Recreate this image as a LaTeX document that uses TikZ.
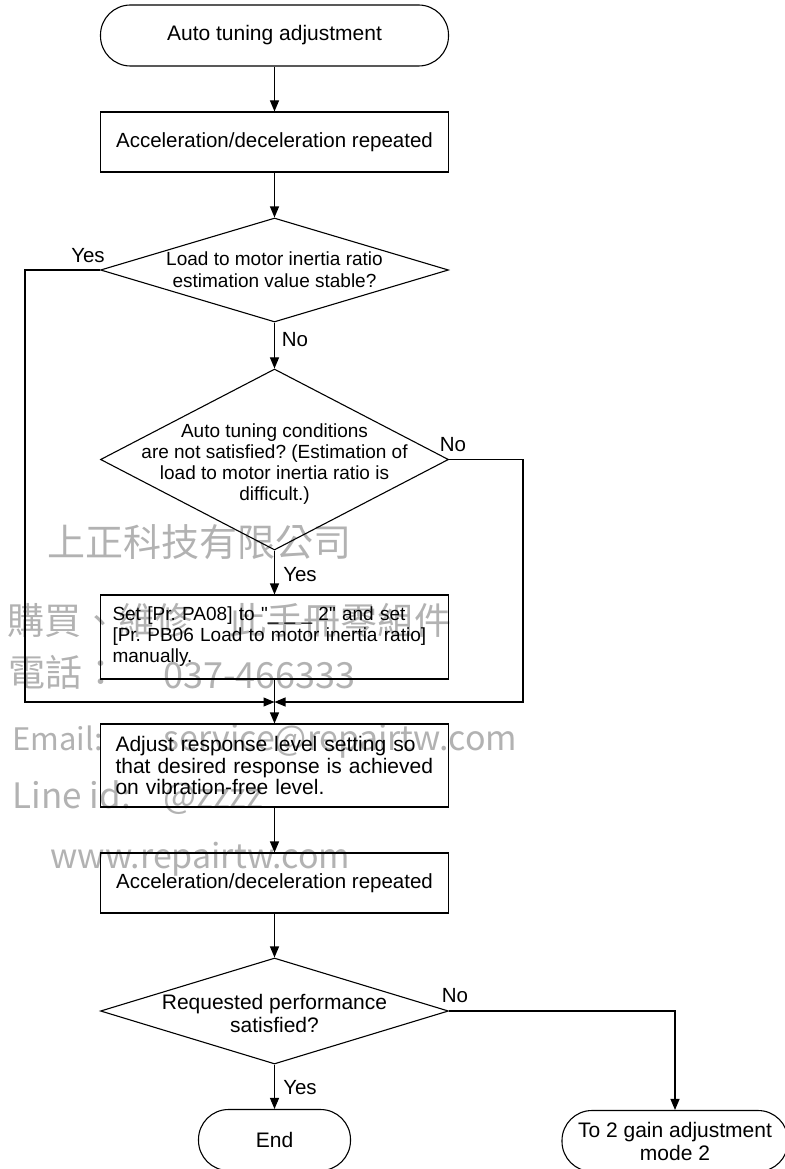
\documentclass[tikz,border=0pt]{standalone}
\usepackage{fontspec}
\setmainfont{Liberation Sans}
\newfontfamily\wmfont{Noto Sans CJK TC}
\usetikzlibrary{arrows.meta,shapes.geometric}
\frenchspacing

\tikzset{
  term/.style={draw, rounded corners=30pt, minimum height=61pt, inner sep=0pt, align=center, font=\fontsize{21}{23}\selectfont},
  proc/.style={draw, minimum width=348pt, minimum height=60pt, inner sep=0pt, font=\fontsize{20.5}{23}\selectfont},
  note/.style={draw, inner ysep=0pt, align=left, minimum height=#1},
  dia/.style={draw, diamond, minimum width=348pt, minimum height=#1, inner sep=0pt},
  diatext/.style={align=center, inner sep=0pt},
  lbl/.style={inner sep=0pt, font=\fontsize{20.5}{23}\selectfont},
  wm/.style={anchor=base west, inner sep=0pt, text=black!30, font=\wmfont\fontsize{#1}{#1}\selectfont},
}

\begin{document}
\begin{tikzpicture}[x=1pt,y=-1pt,line width=1.1pt,>={Triangle[length=11pt,width=9pt]}]
\useasboundingbox (0,0) rectangle (784,1169);

% watermark
\node[wm=38] (wm1) at (47,556) {上正科技有限公司};
\node[wm=37] (wm2) at (7,634) {購買、維修　此手冊零組件};
\node[wm=37] (wm3) at (8,686) {電話：};
\node[wm=36] (wm4) at (163,688) {037-466333};
\node[wm=31] (wm5) at (12,750) {Email:};
\node[wm=34] (wm6) at (163,750) {service@repairtw.com};
\node[wm=35] (wm7) at (12,808) {Line id:};
\node[wm=35] (wm8) at (163,808) {@zzzz};
\node[wm=34] (wm9) at (50,868) {www.repairtw.com};

% steps
\node[term, minimum width=348pt] (start) at (274.5,35.5) {Auto tuning adjustment};
\node[proc] (acc1) at (274.5,142) {Acceleration/deceleration repeated};
\node[dia=104pt] (d1) at (274.5,270) {};
\node[diatext, font=\fontsize{19}{22}\selectfont] (d1txt) at (274.5,270) {Load to motor inertia ratio\\estimation value stable?};
\node[dia=181pt] (d2) at (274.5,459.5) {};
\node[diatext, font=\fontsize{19}{21}\selectfont] (d2txt) at (274.5,464) {Auto tuning conditions\\are not satisfied? (Estimation of\\load to motor inertia ratio is\\difficult.)};
\node[note=84pt, text width=324pt, inner xsep=12pt, font=\fontsize{19}{21}\selectfont] (setpar) at (274.5,637) {Set [Pr. PA08] to \textquotedbl\_ \_ \_ 2\textquotedbl{} and set\\{}[Pr. PB06 Load to motor inertia ratio]\\manually.};
\coordinate (merge) at (274.5,702);
\coordinate (leftrail) at (25,702);
\coordinate (rightrail) at (523,702);
\node[note=83pt, text width=318pt, inner xsep=15pt, font=\fontsize{21}{21.5}\selectfont] (adjust) at (274.5,765.5) {Adjust response level setting so\\that desired response is achieved\\on vibration-free level.};
\node[proc] (acc2) at (274.5,883) {Acceleration/deceleration repeated};
\node[dia=106pt] (d3) at (274.5,1011) {};
\node[diatext, font=\fontsize{21}{23}\selectfont] (d3txt) at (274.5,1013) {Requested performance\\satisfied?};
\node[term, minimum width=152pt] (fin) at (274.5,1140) {End};
\node[term, minimum width=226pt] (mode2) at (675,1141) {To 2 gain adjustment\\mode 2};

% branch labels
\node[lbl] (yes1) at (88,256) {Yes};
\node[lbl] (no1) at (295,340) {No};
\node[lbl] (no2) at (453,445) {No};
\node[lbl] (yes2) at (300,575) {Yes};
\node[lbl] (no3) at (455,996) {No};
\node[lbl] (yes3) at (300,1088) {Yes};

% connectors
\draw[->] (start) -- (acc1);
\draw[->] (acc1) -- (d1);
\draw[->] (d1) -- (d2);
\draw[->] (d2) -- (setpar);
\draw[->] (setpar) -- (adjust);
\draw[->] (d1.west) -| (leftrail) -- (merge);
\draw[->] (d2.east) -| (rightrail) -- (merge);
\draw[->] (adjust) -- (acc2);
\draw[->] (acc2) -- (d3);
\draw[->] (d3) -- (fin);
\draw[->] (d3.east) -| (mode2);
\end{tikzpicture}
\end{document}
